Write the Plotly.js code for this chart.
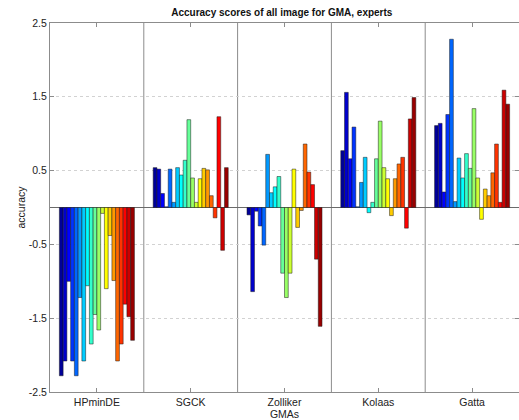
<!DOCTYPE html>
<html>
<head>
<meta charset="utf-8">
<script src="https://cdn.plot.ly/plotly-3.0.1.min.js"></script>
<style>html,body{margin:0;padding:0;background:#fff;}#chart{width:519px;height:420px;}</style>
</head>
<body>
<div id="chart"></div>
<script>
// Group (x axis) categories
const gmas = ["HPminDE", "SGCK", "Zolliker", "Kolaas", "Gatta"];

// Accuracy per image (20 images) for each GMA
const hpminde  = [-2.28, -2.08, -1.00, -2.08, -2.28, -1.22, -2.08, -1.06, -1.85, -1.45, -1.66, -0.08, -1.10, -0.38, -0.99, -2.08, -1.85, -1.31, -1.48, -1.80];
const sgck     = [0.54, 0.52, 0.19, 0.01, 0.52, 0.07, 0.54, 0.44, 0.64, 1.19, 0.40, 0.07, 0.39, 0.53, 0.51, 0.16, -0.14, 1.23, -0.58, 0.54];
const zolliker = [-0.10, -1.14, -0.05, -0.25, -0.51, 0.72, 0.20, 0.28, 0.42, -0.89, -1.22, -0.89, 0.52, -0.27, -0.04, 0.86, 0.48, 0.31, -0.70, -1.61];
const kolaas   = [0.77, 1.56, 0.66, 1.09, 0.01, 0.34, 0.68, -0.07, 0.07, 0.66, 1.17, 0.54, 0.39, -0.11, 0.39, 0.59, 0.68, -0.28, 1.20, 1.49];
const gatta    = [1.11, 1.14, 0.21, 1.26, 2.28, 0.08, 0.67, 0.40, 0.73, 0.53, 1.34, 0.40, -0.16, 0.25, 0.16, 0.47, 0.86, 0.07, 1.59, 1.40];

// Y axis ticks
const yTickVals = [-2.5, -1.5, -0.5, 0.5, 1.5, 2.5];
const yTickText = ["-2.5", "-1.5", "-0.5", "0.5", "1.5", "2.5"];

// MATLAB jet(20) colormap
function jet(n) {
  const m = Math.ceil(n / 4);
  const u = [];
  for (let i = 1; i <= m; i++) u.push(i / m);
  for (let i = 0; i < m - 1; i++) u.push(1);
  for (let i = m; i >= 1; i--) u.push(i / m);
  const g0 = Math.ceil(m / 2) - (n % 4 === 1 ? 1 : 0);
  const R = new Array(n).fill(0), G = new Array(n).fill(0), B = new Array(n).fill(0);
  for (let k = 0; k < u.length; k++) {
    const g = g0 + k + 1, r = g + m, b = g - m;
    if (g >= 1 && g <= n) G[g - 1] = u[k];
    if (r >= 1 && r <= n) R[r - 1] = u[k];
    if (b >= 1 && b <= n) B[b - 1] = u[k];
  }
  return R.map((r, i) => `rgb(${Math.round(r*255)},${Math.round(G[i]*255)},${Math.round(B[i]*255)})`);
}

const series = [hpminde, sgck, zolliker, kolaas, gatta];
const nImg = hpminde.length;
const colors = jet(nImg);
const traces = [];
for (let i = 0; i < nImg; i++) {
  traces.push({
    type: "bar",
    x: gmas,
    y: series.map(s => s[i]),
    name: "image " + (i + 1),
    marker: { color: colors[i], line: { color: "#1a1a1a", width: 0.5 } },
    hoverinfo: "x+y"
  });
}

const font = { family: "Liberation Sans, Arial, sans-serif", size: 10.5, color: "#222" };
const seps = [];
for (let k = 0; k < gmas.length - 1; k++) {
  seps.push({ type: "line", xref: "x", yref: "paper", x0: k + 0.5, x1: k + 0.5, y0: 0, y1: 1,
    line: { color: "#8c8c8c", width: 1 }, layer: "below" });
}

const layout = {
  width: 519, height: 420,
  margin: { l: 50, r: 0, t: 23, b: 28 },
  paper_bgcolor: "#fff", plot_bgcolor: "#fff",
  font: font,
  showlegend: false,
  barmode: "group", bargap: 0.2, bargroupgap: 0,
  title: { text: "<b>Accuracy scores of all image for GMA, experts</b>",
    font: { family: "Liberation Sans, Arial, sans-serif", size: 10, color: "#111" },
    x: 0.543, xanchor: "center", y: 0.97, yanchor: "middle" },
  xaxis: {
    type: "category", range: [-0.5, gmas.length - 0.5],
    showline: true, linecolor: "#8c8c8c", linewidth: 1, mirror: "ticks",
    ticks: "inside", ticklen: 4, tickcolor: "#8c8c8c",
    showgrid: false, zeroline: false,
    tickfont: font,
    title: { text: "GMAs", font: font, standoff: 3 }
  },
  yaxis: {
    range: [-2.5, 2.5], tickvals: yTickVals, ticktext: yTickText,
    showline: true, linecolor: "#8c8c8c", linewidth: 1, mirror: "ticks",
    ticks: "inside", ticklen: 4, tickcolor: "#8c8c8c",
    showgrid: true, gridcolor: "#d2d2d2", griddash: "dot", gridwidth: 1,
    zeroline: true, zerolinecolor: "#6a6a6a", zerolinewidth: 1,
    tickfont: font,
    title: { text: "accuracy", font: font, standoff: 1 }
  },
  shapes: seps
};

Plotly.newPlot("chart", traces, layout, { displayModeBar: false, staticPlot: true });
</script>
</body>
</html>
